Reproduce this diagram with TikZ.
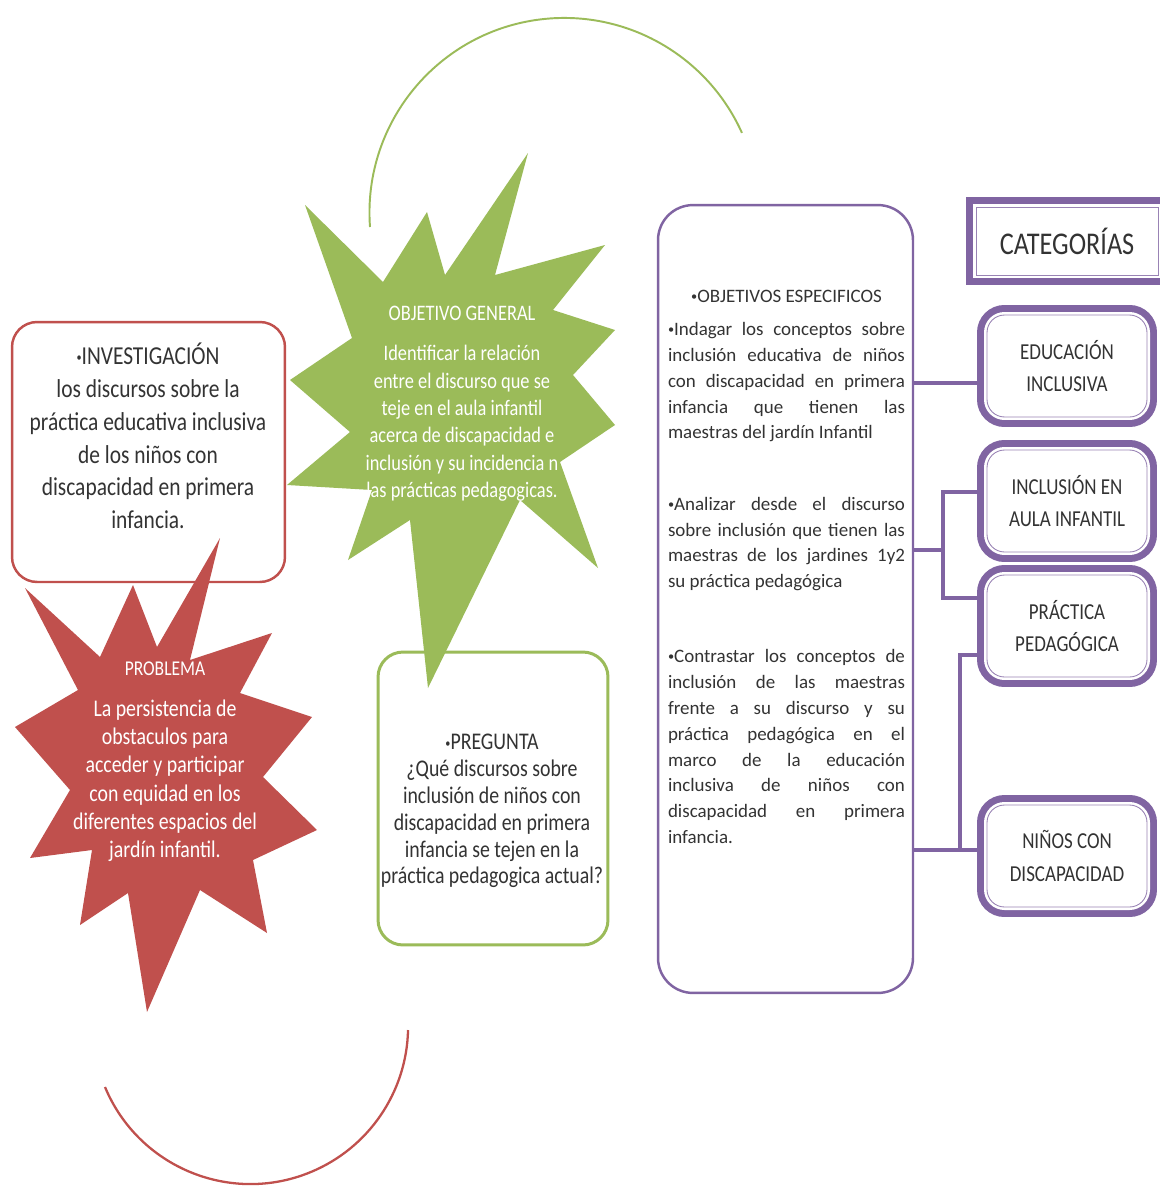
\documentclass[tikz,border=0pt]{standalone}
\usepackage{fontspec}
\setmainfont{Carlito}
\newfontfamily\narrowfont[FakeStretch=0.83]{Carlito}
\usepackage{tikz}
\usetikzlibrary{shapes,calc,positioning,backgrounds}
\definecolor{invred}{HTML}{C0504D}
\definecolor{objgreen}{HTML}{9BBB59}
\definecolor{catpurple}{HTML}{8064A2}
\newcommand{\invfont}{\narrowfont\fontsize{14.7}{18.7}\selectfont}
\newcommand{\probfont}{\narrowfont\fontsize{13.6}{16.1}\selectfont}
\newcommand{\genfont}{\narrowfont\fontsize{12.6}{15.6}\selectfont}
\newcommand{\pregfont}{\narrowfont\fontsize{13.6}{15.3}\selectfont}
\newcommand{\objfont}{\fontsize{10.8}{14.7}\selectfont}
\newcommand{\catfont}{\narrowfont\fontsize{13}{18.7}\selectfont}
\newcommand{\titlefont}{\narrowfont\fontsize{18}{20}\selectfont}
\newcommand{\bul}{\raisebox{0.1em}{\fontsize{7}{7}\selectfont•}}
\tikzset{
  roundbox/.style={rounded corners=0.5cm, fill=white, line width=1.4pt},
  catbox/.style={rounded corners=0.35cm, fill=white, draw=catpurple!80, line width=0.5pt,
    minimum width=3.2cm, minimum height=2.04cm, align=center, text=black!80, font=\catfont,
    preaction={draw=catpurple, line width=0.4cm},
    preaction={draw=white, line width=0.12cm}},
  link/.style={draw=catpurple, line width=2.2pt},
}

\begin{document}
\begin{tikzpicture}[x=0.02cm, y=-0.02cm]
   \useasboundingbox (0,0) rectangle (1159,1186);

   % investigacion y problema
   \node[roundbox, draw=invred, minimum width=5.46cm, minimum height=5.2cm] (inv) at (148.5,452) {};
   \node[align=center, text=black!80, font=\invfont] (invtext) at (148,436)
     {\bul INVESTIGACIÓN\\los discursos sobre la\\práctica educativa inclusiva\\de los niños con\\discapacidad en primera\\infancia.};
   \fill[invred] (25,588) -- (100,657) -- (133,585) -- (157,647) -- (220,538) -- (190,660)
     -- (272,633) -- (240,693) -- (312,717) -- (263,777) -- (317,830) -- (253,860)
     -- (267,933) -- (200,890) -- (147,1012) -- (128,893) -- (80,925) -- (92,850)
     -- (30,858) -- (70,790) -- (15,727) -- (78,690) -- cycle;
   \node[align=center, text=white, font=\probfont] (probtext) at (165,762)
     {{\fontsize{12}{14}\selectfont PROBLEMA}\\[7pt]La persistencia de\\obstaculos para\\acceder y participar\\con equidad en los\\diferentes espacios del\\jardín infantil.};

   % objetivo general y pregunta
   \node[roundbox, draw=objgreen, line width=1.7pt, minimum width=4.6cm, minimum height=5.86cm] (preg) at (493,798.5) {};
   \fill[objgreen] (305,205) -- (383,282) -- (427,212) -- (445,275) -- (528,153) -- (495,275)
     -- (605,245) -- (553,310) -- (615,330) -- (573,375) -- (615,425) -- (560,462)
     -- (598,568) -- (520,500) -- (428,688) -- (410,520) -- (348,560) -- (372,490)
     -- (287,485) -- (350,432) -- (290,380) -- (352,338) -- cycle;
   \node[align=center, text=white, font=\genfont] (gentext) at (462,404)
     {OBJETIVO GENERAL\\[7pt]Identificar la relación\\entre el discurso que se\\teje en el aula infantil\\acerca de discapacidad e\\inclusión y su incidencia n\\las prácticas pedagogicas.};
   \node[align=center, text=black!80, font=\pregfont] (pregtext) at (492,811)
     {\bul PREGUNTA\\¿Qué discursos sobre\\inclusión de niños con\\discapacidad en primera\\infancia se tejen en la\\práctica pedagogica actual?};

   % arcos
   \draw[objgreen, line width=1.1pt] (370,227) arc[start angle=175.8, end angle=335.8, radius=194.8];
   \draw[invred, line width=1.3pt] (105,1087) arc[start angle=157.4, end angle=1.3, radius=157.6];

   % objetivos especificos
   \node[roundbox, draw=catpurple, rounded corners=0.7cm, minimum width=5.1cm, minimum height=15.76cm] (obj) at (785.5,599) {};
   \node[anchor=north, inner sep=0pt, text width=4.74cm, align=justify, font=\objfont, text=black!80] (objtext) at (786.5,290)
     {\tolerance=9999 \hyphenpenalty=10000
      {\centering \bul OBJETIVOS ESPECIFICOS\par}\vspace{4pt}
      \bul Indagar los conceptos sobre\linebreak inclusión educativa de niños\linebreak con discapacidad en primera\linebreak infancia que tienen las\linebreak maestras del jardín Infantil\par\vspace{26pt}
      \bul Analizar desde el discurso\linebreak sobre inclusión que tienen las\linebreak maestras de los jardines 1y2\linebreak su práctica pedagógica\par\vspace{28pt}
      \bul Contrastar los conceptos de\linebreak inclusión de las maestras\linebreak frente a su discurso y su\linebreak práctica pedagógica en el\linebreak marco de la educación\linebreak inclusiva de niños con\linebreak discapacidad en primera\linebreak infancia.\par};

   % categorias
   \begin{scope}[every node/.style={catbox}]
    \node[sharp corners, minimum width=3.64cm, minimum height=1.36cm, font=\titlefont] (cat) at (1067,241) {CATEGORÍAS};
    \node (edu) at (1067,366) {EDUCACIÓN\\INCLUSIVA};
    \node (inc) at (1067,501) {INCLUSIÓN EN\\AULA INFANTIL};
    \node (pra) at (1067,626) {PRÁCTICA\\PEDAGÓGICA};
    \node (nin) at (1067,856) {NIÑOS CON\\DISCAPACIDAD};
   \end{scope}

   \begin{scope}[on background layer]
    \fill[white] (0,0) rectangle (1159,1186);
    \coordinate (c1) at (940,383);
    \coordinate (b1t) at (943,492);
    \coordinate (b1m) at (943,550);
    \coordinate (b1b) at (943,598);
    \coordinate (b2t) at (960,655);
    \coordinate (b2b) at (960,850);
    \draw[link] (c1 -| obj.east) -- (c1 -| edu.west);
    \draw[link] (b1m -| obj.east) -- (b1m);
    \draw[link] (b1t -| inc.west) -- (b1t) -- (b1b) -- (b1b -| pra.west);
    \draw[link] (b2t -| pra.west) -- (b2t) -- (b2b);
    \draw[link] (b2b -| obj.east) -- (b2b -| nin.west);
   \end{scope}
\end{tikzpicture}
\end{document}
